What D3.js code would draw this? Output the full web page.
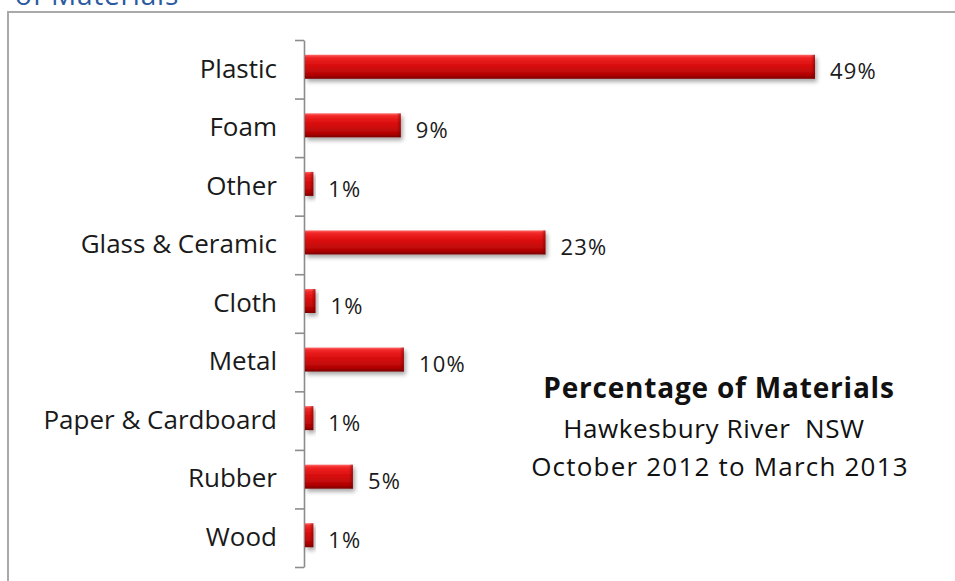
<!DOCTYPE html>
<html>
<head>
<meta charset="utf-8">
<script src="https://cdn.jsdelivr.net/npm/d3@7"></script>
<style>
  html, body { margin: 0; padding: 0; background: #ffffff; }
  svg { display: block; }
</style>
</head>
<body>
<svg id="chart" width="955" height="581"></svg>
<script>
// ---- data ----
const categories = ["Plastic", "Foam", "Other", "Glass & Ceramic", "Cloth", "Metal", "Paper & Cardboard", "Rubber", "Wood"];
const values = [49.0, 9.2, 0.8, 23.1, 1.0, 9.5, 0.8, 4.6, 0.8];
const valueLabels = ["49%", "9%", "1%", "23%", "1%", "10%", "1%", "5%", "1%"];
const titleLines = ["Percentage of Materials", "Hawkesbury River  NSW", "October 2012 to March 2013"];
const headingText = "of Materials";

const svg = d3.select("#chart");
const FONT = "'Open Sans', Lato, sans-serif";
const keepSpaces = s => s.replace(/  /g, " \u00A0");

// defs: gradient + shadow
const defs = svg.append("defs");
const grad = defs.append("linearGradient").attr("id", "barGrad")
  .attr("x1", 0).attr("y1", 0).attr("x2", 0).attr("y2", 1);
[[0, "#ff6a6a"], [0.1, "#f22a2a"], [0.3, "#e31414"], [0.6, "#cc0a0a"], [0.85, "#b00404"], [1, "#7a0000"]]
  .forEach(([o, c]) => grad.append("stop").attr("offset", o).attr("stop-color", c));
const capGrad = defs.append("linearGradient").attr("id", "capGrad")
  .attr("x1", 0).attr("y1", 0).attr("x2", 1).attr("y2", 0);
[[0, "rgba(120,0,0,0)"], [1, "rgba(110,0,0,0.55)"]]
  .forEach(([o, c]) => capGrad.append("stop").attr("offset", o).attr("stop-color", c));
const f = defs.append("filter").attr("id", "shadow")
  .attr("x", "-20%").attr("y", "-40%").attr("width", "150%").attr("height", "200%");
f.append("feDropShadow").attr("dx", 2).attr("dy", 3).attr("stdDeviation", 2)
  .attr("flood-color", "#000").attr("flood-opacity", 0.35);

// heading fragment (cut off at top in the source picture)
svg.append("text").attr("x", 15).attr("y", 5)
  .attr("font-family", FONT).attr("font-size", 28).attr("letter-spacing", 0.8).attr("fill", "#2b5aa0")
  .text(headingText);

// chart border
svg.append("rect").attr("x", 8).attr("y", 12).attr("width", 960).attr("height", 600)
  .attr("fill", "#fff").attr("stroke", "#a9a9a9").attr("stroke-width", 2);

// scales
const y = d3.scaleBand().domain(categories).range([40, 567]).padding(0);
const x = d3.scaleLinear().domain([0, 49]).range([305, 815]);
const barH = y.bandwidth() * 0.41;
const barOff = -2.5;

// boundary ticks
const yEdge = d3.scaleLinear().domain([0, categories.length]).range([40, 567]);
const edgeAxis = svg.append("g").attr("transform", "translate(304,0)")
  .call(d3.axisLeft(yEdge).tickValues(d3.range(categories.length + 1))
    .tickSize(9).tickSizeOuter(0).tickFormat(""));
edgeAxis.selectAll("path, line").attr("stroke", "#8c8c8c").attr("stroke-width", 1.6);

// category labels
const catAxis = svg.append("g").attr("transform", "translate(304,0)")
  .call(d3.axisLeft(y).tickSize(0).tickPadding(27));
catAxis.select(".domain").remove();
catAxis.selectAll("text").attr("font-family", FONT).attr("font-size", 26)
  .attr("fill", "#1a1a1a");

// bars
const bars = svg.append("g");
const rows = categories.map((c, i) => ({ c, v: values[i], lab: valueLabels[i] }));
bars.selectAll("rect.bar").data(rows).join("rect").attr("class", "bar")
  .attr("x", x(0)).attr("y", d => y(d.c) + (y.bandwidth() - barH) / 2 + barOff)
  .attr("width", d => x(d.v) - x(0)).attr("height", barH)
  .attr("fill", "url(#barGrad)").attr("filter", "url(#shadow)");
bars.selectAll("rect.cap").data(rows).join("rect").attr("class", "cap")
  .attr("x", d => x(d.v) - Math.min(4, (x(d.v) - x(0)) / 2))
  .attr("y", d => y(d.c) + (y.bandwidth() - barH) / 2 + barOff)
  .attr("width", d => Math.min(4, (x(d.v) - x(0)) / 2)).attr("height", barH)
  .attr("fill", "url(#capGrad)");

// value labels
svg.append("g").selectAll("text").data(rows).join("text")
  .attr("x", d => x(d.v) + 15).attr("y", d => y(d.c) + y.bandwidth() / 2 + 2.5)
  .attr("dy", "0.35em")
  .attr("font-family", FONT).attr("font-size", 22).attr("letter-spacing", 1.2).attr("fill", "#1a1a1a")
  .text(d => d.lab);

// title block
const tg = svg.append("g").attr("font-family", FONT).attr("fill", "#111").attr("text-anchor", "middle");
tg.append("text").attr("x", 719).attr("y", 398).attr("font-size", 28).attr("letter-spacing", 0.8)
  .attr("font-weight", "bold").text(keepSpaces(titleLines[0]));
tg.append("text").attr("x", 714).attr("y", 438).attr("font-size", 26).attr("letter-spacing", 0.6)
  .text(keepSpaces(titleLines[1]));
tg.append("text").attr("x", 720).attr("y", 476).attr("font-size", 26).attr("letter-spacing", 1.2)
  .text(keepSpaces(titleLines[2]));
</script>
</body>
</html>
